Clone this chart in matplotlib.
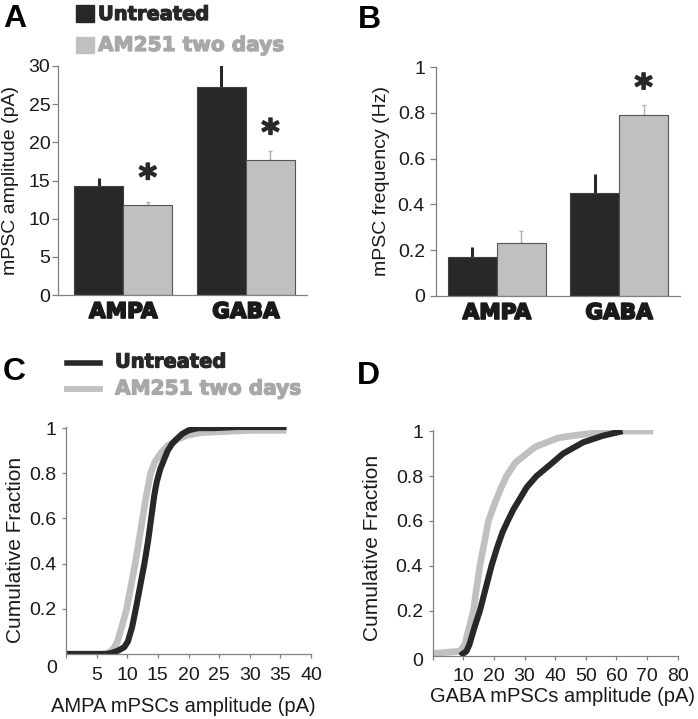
import matplotlib
matplotlib.use("Agg")
import matplotlib.pyplot as plt
import matplotlib.patheffects as pe
from matplotlib.patches import Rectangle
from matplotlib.lines import Line2D

# ---- data ----
groups = ["AMPA", "GABA"]
series = ["Untreated", "AM251 two days"]

amp_untreated = [14.3, 27.3]
amp_untreated_err = [1.0, 2.9]
amp_am251 = [11.8, 17.7]
amp_am251_err = [0.4, 1.1]
amp_ticks = [0, 5, 10, 15, 20, 25, 30]
amp_star = [15.2, 21.1]

freq_untreated = [0.17, 0.45]
freq_untreated_err = [0.043, 0.083]
freq_am251 = [0.23, 0.79]
freq_am251_err = [0.053, 0.043]
freq_ticks = [0, 0.2, 0.4, 0.6, 0.8, 1]
freq_tick_labels = ["0", "0.2", "0.4", "0.6", "0.8", "1"]
freq_star = [None, 0.905]

ampa_ctl_x = [0, 6.5, 7.5, 8.5, 9.5, 10.1, 10.8, 11.4, 12.1, 12.8, 13.4,
              13.9, 14.4, 14.8, 15.4, 16.0, 16.6, 17.3, 18.0, 19.0, 20.0,
              21.5, 24, 28, 36]
ampa_ctl_y = [0, 0, 0.005, 0.015, 0.03, 0.055, 0.12, 0.2, 0.3, 0.4, 0.5,
              0.6, 0.7, 0.76, 0.82, 0.86, 0.9, 0.93, 0.95, 0.975, 0.99,
              1.0, 1.0, 1.005, 1.005]
ampa_am_x = [0, 6.0, 7.0, 7.8, 8.4, 9.1, 9.9, 10.6, 11.3, 11.9, 12.5, 13.1,
             13.8, 14.5, 15.5, 16.5, 18.2, 20, 22, 26, 30, 36]
ampa_am_y = [0, 0, 0.005, 0.025, 0.055, 0.12, 0.2, 0.3, 0.4, 0.5, 0.6, 0.7,
             0.8, 0.85, 0.89, 0.92, 0.95, 0.97, 0.98, 0.985, 0.99, 0.99]

gaba_ctl_x = [9.0, 10.0, 11.0, 12.0, 13.5, 15.4, 17.3, 19.2, 21.0, 22.8,
              24.5, 26.3, 28.5, 30.7, 33.9, 38.3, 42.6, 49.1, 55.7, 62]
gaba_ctl_y = [0.0, 0.01, 0.02, 0.05, 0.12, 0.2, 0.3, 0.4, 0.48, 0.55, 0.6,
              0.65, 0.7, 0.75, 0.8, 0.85, 0.9, 0.95, 0.98, 1.0]
gaba_am_x = [0, 8.9, 10.5, 11.8, 13.3, 14.3, 15.4, 16.8, 18.2, 19.5, 20.9,
             22.4, 24.1, 27, 30.7, 33.5, 37.2, 41, 45.9, 52, 60, 72]
gaba_am_y = [0.01, 0.02, 0.05, 0.12, 0.2, 0.3, 0.4, 0.5, 0.6, 0.65, 0.7,
             0.75, 0.8, 0.86, 0.9, 0.93, 0.95, 0.97, 0.98, 0.99, 1.0, 1.0]

ampa_xticks = [0, 5, 10, 15, 20, 25, 30, 35, 40]
gaba_xticks = [0, 10, 20, 30, 40, 50, 60, 70, 80]
cdf_yticks = [0.2, 0.4, 0.6, 0.8, 1]
cdf_ytick_labels = ["0.2", "0.4", "0.6", "0.8", "1"]

DARK = "#282828"
LIGHT = "#c0c0c0"
LIGHT_TEXT = "#a8a8a8"
SPINE = "#808080"
TXT = "#1a1a1a"
REG = "Liberation Sans"
HEAVY = "DejaVu Sans"

W, H = 698, 719


def rect(left, top, right, bottom):
    """pixel box -> figure fraction rect"""
    return [left / W, 1 - bottom / H, (right - left) / W, (bottom - top) / H]


def fatten(color, lw=0.9):
    # thicker strokes to get closer to the black-weight font of the original
    return [pe.withStroke(linewidth=lw, foreground=color)]


def style_axes(ax):
    for side in ["top", "right"]:
        ax.spines[side].set_visible(False)
    for side in ["left", "bottom"]:
        ax.spines[side].set_color(SPINE)
        ax.spines[side].set_linewidth(0.9)


def draw_bars(ax, ctl, ctl_err, am, am_err, stars, xlim, pad):
    centers = [0, 2.5]
    left = [c - 0.5 for c in centers]
    right = [c + 0.5 for c in centers]
    ax.bar(left, ctl, width=1, color=DARK, edgecolor="#404040", lw=0.8,
           zorder=2)
    ax.bar(right, am, width=1, color=LIGHT, edgecolor="#555555", lw=0.8,
           zorder=2)
    ax.errorbar(left, ctl, yerr=[[0, 0], ctl_err], fmt="none",
                ecolor=DARK, elinewidth=2.2, capsize=0, zorder=1)
    ax.errorbar(right, am, yerr=[[0, 0], am_err], fmt="none",
                ecolor="#b0b0b0", elinewidth=1, capsize=1.5, zorder=1)
    for x, s in zip(right, stars):
        if s is not None:
            ax.text(x, s, "*", ha="center", va="center", fontsize=25,
                    fontweight="bold", color=DARK, family=HEAVY,
                    path_effects=fatten(DARK, 1.2))
    style_axes(ax)
    ax.set_xlim(*xlim)
    ax.set_xticks(centers)
    ax.set_xticklabels(groups, family=HEAVY, fontweight="heavy",
                       fontsize=15.5, color=TXT)
    for lab in ax.get_xticklabels():
        lab.set_path_effects(fatten(TXT, 1.3))
    ax.tick_params(axis="x", length=0, pad=5)
    ax.tick_params(axis="y", length=4, width=0.9, color=SPINE, pad=pad,
                   labelsize=14, labelcolor=TXT)


def draw_cdf(ax, ctl_x, ctl_y, am_x, am_y, xmax, xticks):
    ax.plot(am_x, am_y, color=LIGHT, lw=4.8, solid_capstyle="butt")
    ax.plot(ctl_x, ctl_y, color=DARK, lw=4.4, solid_capstyle="butt")
    style_axes(ax)
    ax.set_xlim(0, xmax)
    ax.set_ylim(0, 1.005)
    ax.set_xticks(xticks)
    ax.set_xticklabels([""] + [str(t) for t in xticks[1:]])
    ax.set_yticks(cdf_yticks)
    ax.set_yticklabels(cdf_ytick_labels)
    ax.tick_params(axis="x", length=3, width=0.9, color=SPINE, pad=6,
                   labelsize=14, labelcolor=TXT)
    ax.tick_params(axis="y", length=3, width=0.9, color=SPINE, pad=4,
                   labelsize=14, labelcolor=TXT)
    for lab in ax.get_xticklabels() + ax.get_yticklabels():
        lab.set_family(REG)


def main():
    fig = plt.figure(figsize=(W / 100, H / 100), dpi=100)
    plt.rcParams["font.family"] = [REG, "DejaVu Sans"]

    # A: amplitude bars
    ax_a = fig.add_axes(rect(58, 66, 307, 295))
    draw_bars(ax_a, amp_untreated, amp_untreated_err, amp_am251,
              amp_am251_err, amp_star, (-1.33, 3.745), 1.5)
    ax_a.set_ylim(0, 30)
    ax_a.set_yticks(amp_ticks)
    ax_a.set_ylabel("mPSC amplitude (pA)", fontsize=14, color=TXT)
    ax_a.yaxis.set_label_coords(-0.155, 0.5)

    # B: frequency bars
    ax_b = fig.add_axes(rect(436, 67, 680, 296))
    draw_bars(ax_b, freq_untreated, freq_untreated_err, freq_am251,
              freq_am251_err, freq_star, (-1.245, 3.745), 4)
    ax_b.set_ylim(0, 1)
    ax_b.set_yticks(freq_ticks)
    ax_b.set_yticklabels(freq_tick_labels)
    ax_b.set_ylabel("mPSC frequency (Hz)", fontsize=14, color=TXT)
    ax_b.yaxis.set_label_coords(-0.19, 0.5)

    # C: AMPA cumulative
    ax_c = fig.add_axes(rect(66, 427, 311, 654))
    draw_cdf(ax_c, ampa_ctl_x, ampa_ctl_y, ampa_am_x, ampa_am_y, 40,
             ampa_xticks)
    ax_c.set_ylabel("Cumulative Fraction", fontsize=15, color=TXT)
    ax_c.yaxis.set_label_coords(-0.168, 0.46)
    ax_c.set_xlabel("AMPA mPSCs amplitude (pA)", fontsize=14.5, color=TXT,
                    va="top")
    ax_c.xaxis.set_label_coords(0.478, -0.19)
    ax_c.annotate("0", xy=(0, 0), xytext=(-10, -10.5),
                  textcoords="offset points", ha="center", va="center",
                  fontsize=14, color=TXT)

    # D: GABA cumulative
    ax_d = fig.add_axes(rect(432.7, 430, 677.7, 655.7))
    draw_cdf(ax_d, gaba_ctl_x, gaba_ctl_y, gaba_am_x, gaba_am_y, 80,
             gaba_xticks)
    ax_d.set_ylabel("Cumulative Fraction", fontsize=15, color=TXT)
    ax_d.yaxis.set_label_coords(-0.207, 0.477)
    ax_d.set_xlabel("GABA mPSCs amplitude (pA)", fontsize=14.5, color=TXT,
                    va="top")
    ax_d.xaxis.set_label_coords(0.53, -0.14)
    ax_d.annotate("0", xy=(0, 0), xytext=(-11, -4.5),
                  textcoords="offset points", ha="center", va="center",
                  fontsize=14, color=TXT)

    # panel letters
    for letter, x, y in [("A", 3, 19), ("B", 358, 20), ("C", 3, 372),
                         ("D", 357, 376)]:
        fig.text(x / W, 1 - y / H, letter, fontsize=23, fontweight="bold",
                 va="center", ha="left", color="black")

    # legend for bars
    fig.patches.append(Rectangle((76 / W, 1 - 22 / H), 18 / W, 17 / H,
                                 transform=fig.transFigure, color=DARK))
    fig.patches.append(Rectangle((76 / W, 1 - 53 / H), 18 / W, 16 / H,
                                 transform=fig.transFigure, color=LIGHT))
    fig.text(98 / W, 1 - 14.5 / H, series[0], fontsize=14,
             fontweight="heavy", family=HEAVY, va="center", color=DARK,
             path_effects=fatten(DARK))
    fig.text(98 / W, 1 - 45.5 / H, series[1], fontsize=14.5,
             fontweight="heavy", family=HEAVY, va="center", color=LIGHT_TEXT,
             path_effects=fatten(LIGHT_TEXT))

    # legend for curves
    fig.lines.append(Line2D([67 / W, 100 / W], [1 - 362.7 / H] * 2,
                            transform=fig.transFigure, color=DARK, lw=4))
    fig.lines.append(Line2D([67 / W, 100 / W], [1 - 389 / H] * 2,
                            transform=fig.transFigure, color=LIGHT, lw=4.2))
    fig.text(115 / W, 1 - 362 / H, series[0], fontsize=14,
             fontweight="heavy", family=HEAVY, va="center", color=DARK,
             path_effects=fatten(DARK))
    fig.text(115 / W, 1 - 389 / H, series[1], fontsize=14.5,
             fontweight="heavy", family=HEAVY, va="center", color=LIGHT_TEXT,
             path_effects=fatten(LIGHT_TEXT))

    fig.savefig("out.png", dpi=100)


if __name__ == "__main__":
    main()
